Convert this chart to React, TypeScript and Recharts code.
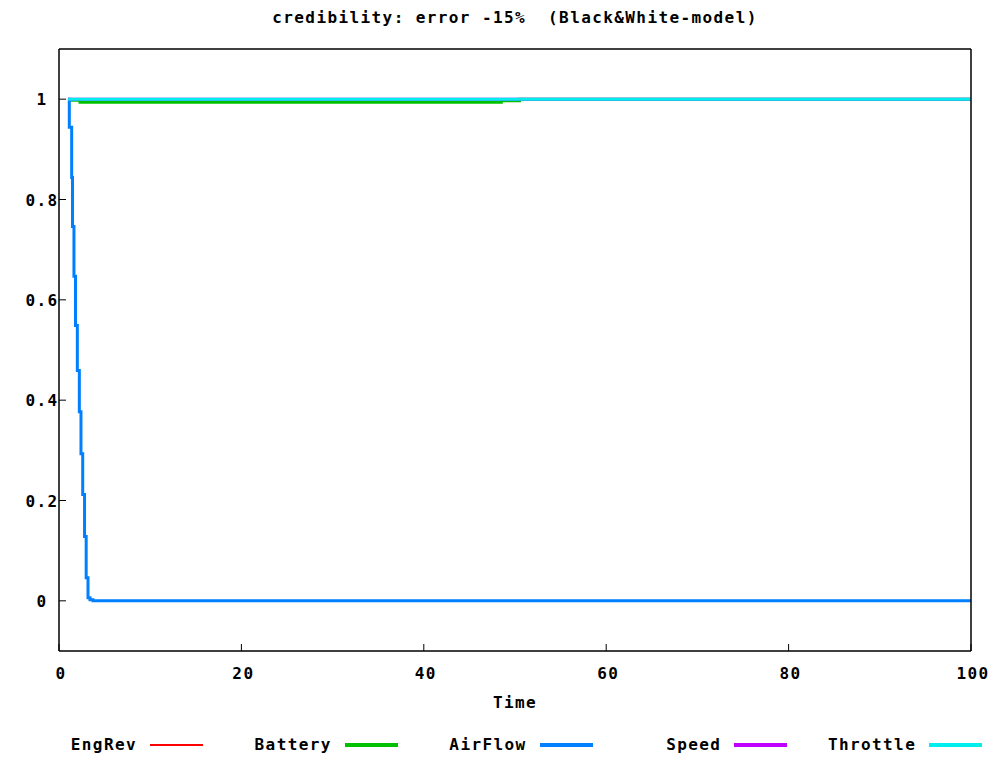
import { LineChart, Line, XAxis, YAxis } from 'recharts'

const chartTitle = 'credibility: error -15%  (Black&White-model)'
const xLabel = 'Time'

const xTicks = [0, 20, 40, 60, 80, 100]
const yTicks = [0, 0.2, 0.4, 0.6, 0.8, 1]

const seriesNames = ['EngRev', 'Battery', 'AirFlow', 'Speed', 'Throttle']
const seriesColors = ['#ff0000', '#00c000', '#0080ff', '#c000ff', '#00eeee']
const seriesWidths = [1.5, 3, 3, 3, 3]

const engRevTime = [1, 100]
const engRevValue = [1, 1]

const batteryTime = [1, 2.3, 48.5, 50.5, 100]
const batteryValue = [0.998, 0.994, 0.997, 1, 1]

const airFlowTime = [1, 1.13, 1.39, 1.48, 1.64, 1.81, 2.01, 2.23, 2.41, 2.6, 2.8, 2.98, 3.18, 3.4, 3.73, 100]
const airFlowValue = [1, 0.944, 0.844, 0.746, 0.647, 0.549, 0.459, 0.377, 0.293, 0.212, 0.128, 0.046, 0.006, 0.002, 0, 0]

const speedTime = [1, 100]
const speedValue = [1, 1]

const throttleTime = [1, 100]
const throttleValue = [1, 1]

const toPoints = (ts: number[], vs: number[]) => ts.map((t, i) => ({ t, v: vs[i] }))

const series = [
  toPoints(engRevTime, engRevValue),
  toPoints(batteryTime, batteryValue),
  toPoints(airFlowTime, airFlowValue),
  toPoints(speedTime, speedValue),
  toPoints(throttleTime, throttleValue),
]

const font = {
  fontFamily: '"DejaVu Sans Mono", monospace',
  fontWeight: 'bold' as const,
  fontSize: 16,
  letterSpacing: 1.4,
}

const yFmt = (v: number) => (v === 0 ? '0' : v === 1 ? '1' : v.toFixed(1))

const BottomTick = (p: any) => (
  <g>
    <line x1={p.x} x2={p.x} y1={p.y} y2={p.y - 7} stroke="#000" />
    <text x={p.x + 2} y={p.y + 28} textAnchor="middle" fill="#000" style={font}>
      {p.payload.value}
    </text>
  </g>
)

const TopTick = (p: any) => (
  <line x1={p.x} x2={p.x} y1={p.y} y2={p.y + 7} stroke="#000" />
)

const LeftTick = (p: any) => (
  <g>
    <line x1={p.x} x2={p.x + 7} y1={p.y} y2={p.y} stroke="#000" />
    <text x={p.x - 17} y={p.y + 6} textAnchor="middle" fill="#000" style={font}>
      {yFmt(p.payload.value)}
    </text>
  </g>
)

const RightTick = (p: any) => (
  <line x1={p.x - 7} x2={p.x} y1={p.y} y2={p.y} stroke="#000" />
)

export default function App() {
  return (
    <div style={{ position: 'absolute', left: 0, top: 0, width: 1000, height: 763, background: '#fff' }}>
      <div
        style={{
          ...font,
          position: 'absolute',
          left: 59,
          top: 9,
          width: 912,
          textAlign: 'center',
          whiteSpace: 'pre',
          lineHeight: '18px',
        }}
      >
        {chartTitle}
      </div>
      <LineChart width={1000} height={763} margin={{ top: 0, right: 0, bottom: 0, left: 0 }}>
        <XAxis
          xAxisId="b"
          type="number"
          dataKey="t"
          domain={[0, 100]}
          ticks={xTicks}
          height={112}
          tickSize={0}
          tickMargin={0}
          tickLine={false}
          tick={BottomTick}
          axisLine={{ stroke: '#000', strokeWidth: 1.5 }}
        />
        <XAxis
          xAxisId="top"
          orientation="top"
          type="number"
          dataKey="t"
          domain={[0, 100]}
          ticks={xTicks}
          height={49}
          tickSize={0}
          tickMargin={0}
          tickLine={false}
          tick={TopTick}
          axisLine={{ stroke: '#000', strokeWidth: 1.5 }}
        />
        <YAxis
          yAxisId="l"
          type="number"
          domain={[-0.1, 1.1]}
          ticks={yTicks}
          width={59}
          tickSize={0}
          tickMargin={0}
          tickLine={false}
          tick={LeftTick}
          axisLine={{ stroke: '#000', strokeWidth: 1.5 }}
        />
        <YAxis
          yAxisId="r"
          orientation="right"
          type="number"
          domain={[-0.1, 1.1]}
          ticks={yTicks}
          width={29}
          tickSize={0}
          tickMargin={0}
          tickLine={false}
          tick={RightTick}
          axisLine={{ stroke: '#000', strokeWidth: 1.5 }}
        />
        {series.map((d, i) => (
          <Line
            key={seriesNames[i]}
            xAxisId="b"
            yAxisId="l"
            data={d}
            dataKey="v"
            name={seriesNames[i]}
            type="stepAfter"
            stroke={seriesColors[i]}
            strokeWidth={seriesWidths[i]}
            dot={false}
            activeDot={false}
            isAnimationActive={false}
          />
        ))}
      </LineChart>
      <div
        style={{
          ...font,
          position: 'absolute',
          left: 59,
          top: 694,
          width: 912,
          textAlign: 'center',
          lineHeight: '18px',
        }}
      >
        {xLabel}
      </div>
      {seriesNames.map((name, i) => (
        <div
          key={name}
          style={{
            ...font,
            position: 'absolute',
            left: 10 + i * 194.8,
            top: 736,
            height: 18,
            display: 'flex',
            alignItems: 'center',
            lineHeight: '18px',
          }}
        >
          <span style={{ display: 'inline-block', width: 127, textAlign: 'right' }}>{name}</span>
          <span
            style={{
              display: 'inline-block',
              marginLeft: 13,
              width: 53,
              height: seriesWidths[i] + 0.5,
              background: seriesColors[i],
            }}
          />
        </div>
      ))}
    </div>
  )
}
